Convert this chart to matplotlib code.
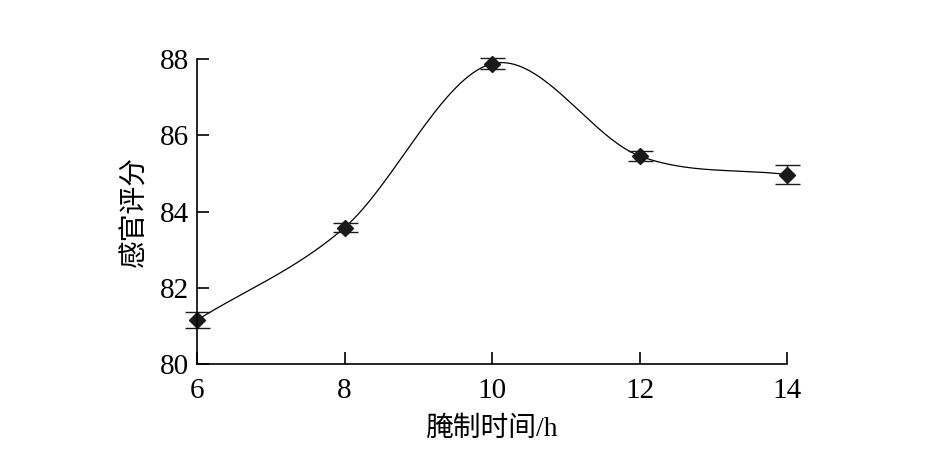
import numpy as np
import matplotlib
matplotlib.use("Agg")
import matplotlib.pyplot as plt

# Data
hours = [6, 8, 10, 12, 14]
score = [81.15, 83.58, 87.88, 85.46, 84.97]
score_err = [0.21, 0.12, 0.14, 0.14, 0.25]
x_ticks = [6, 8, 10, 12, 14]
y_ticks = [80, 82, 84, 86, 88]


def smooth_curve(x, y, xs):
    """Catmull-Rom style cubic Hermite through (x, y), evaluated at xs."""
    x = np.asarray(x, float)
    y = np.asarray(y, float)
    n = len(x)
    m = np.empty(n)
    m[0] = (y[1] - y[0]) / (x[1] - x[0])
    m[-1] = (y[-1] - y[-2]) / (x[-1] - x[-2])
    m[1:-1] = (y[2:] - y[:-2]) / (x[2:] - x[:-2])
    idx = np.clip(np.searchsorted(x, xs) - 1, 0, n - 2)
    h = x[idx + 1] - x[idx]
    t = (xs - x[idx]) / h
    h00 = 2 * t ** 3 - 3 * t ** 2 + 1
    h10 = t ** 3 - 2 * t ** 2 + t
    h01 = -2 * t ** 3 + 3 * t ** 2
    h11 = t ** 3 - t ** 2
    return h00 * y[idx] + h10 * h * m[idx] + h01 * y[idx + 1] + h11 * h * m[idx + 1]


fam = ['Liberation Serif', 'Noto Sans CJK SC']
plt.rcParams['font.family'] = fam

fig = plt.figure(figsize=(9.25, 4.66), dpi=100)
ax = fig.add_axes([0.213, 0.219, 0.638, 0.654])

xs = np.linspace(hours[0], hours[-1], 400)
ax.plot(xs, smooth_curve(hours, score, xs), color='black', lw=0.9)
bars = ax.errorbar(hours, score, yerr=score_err, fmt='D', color='#1a1a1a',
                   ms=8, capsize=9, elinewidth=1.0, capthick=1.0)
for art in bars.lines[0:1] + tuple(bars.lines[1]) + tuple(bars.lines[2]):
    art.set_clip_on(False)

ax.set_xlim(6, 14)
ax.set_ylim(80, 88)
ax.set_xticks(x_ticks)
ax.set_yticks(y_ticks)
ax.spines['top'].set_visible(False)
ax.spines['right'].set_visible(False)
for s in ['left', 'bottom']:
    ax.spines[s].set_linewidth(1.2)
ax.tick_params(direction='in', length=8.5, width=1.2, labelsize=21)
ax.tick_params(axis='x', pad=10)
ax.tick_params(axis='y', pad=6)
ax.set_xlabel('腌制时间/h', fontsize=20, labelpad=9)
ax.set_ylabel('感官评分', fontsize=20, labelpad=8)

fig.savefig('out.png', dpi=100)
